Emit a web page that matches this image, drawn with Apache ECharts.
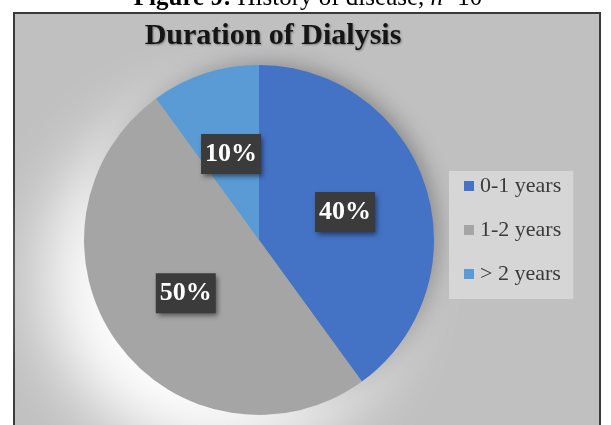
<!DOCTYPE html>
<html>
<head>
<meta charset="utf-8">
<script src="https://cdn.jsdelivr.net/npm/echarts@6/dist/echarts.min.js"></script>
<style>
  html, body { margin: 0; padding: 0; background: #fff; }
  #chart { width: 611px; height: 425px; }
</style>
</head>
<body>
<div id="chart"></div>
<script>
// data
const categories = ['0-1 years', '1-2 years', '> 2 years']
const percents = [40, 50, 10]
const sliceColors = ['#4472C4', '#A5A5A5', '#5B9BD5']

const chart = echarts.init(document.getElementById('chart'))
const serif = '"Liberation Serif", "DejaVu Serif", serif'
const pieCenter = [259, 240]

// a full disc behind the pie, only used for its shadow
const backdrop = (z, shadow) => ({
  type: 'pie',
  z,
  silent: true,
  center: pieCenter,
  radius: 173,
  label: { show: false },
  labelLine: { show: false },
  itemStyle: Object.assign({ color: '#A5A5A5' }, shadow),
  data: [{ value: 1, name: 'backdrop' }],
})

const option = {
  animation: false,
  backgroundColor: '#fff',
  title: [
    {
      // figure caption, cut off at the top of the picture
      text: '{b|Figure 9:} History of disease, {i|n}=10',
      left: 303,
      textAlign: 'center',
      top: -19,
      textStyle: {
        fontFamily: serif,
        fontSize: 25,
        fontWeight: 'normal',
        color: '#000',
        rich: {
          b: { fontFamily: serif, fontSize: 25, fontWeight: 'bold', color: '#000' },
          i: { fontFamily: serif, fontSize: 25, fontStyle: 'italic', color: '#000' },
        },
      },
    },
    {
      text: 'Duration of Dialysis',
      left: 268,
      textAlign: 'center',
      top: 16,
      textStyle: {
        fontFamily: serif,
        fontSize: 30,
        fontWeight: 'bold',
        color: '#151515',
        textShadowColor: 'rgba(0,0,0,0.35)',
        textShadowBlur: 2,
        textShadowOffsetX: 1,
        textShadowOffsetY: 1,
      },
    },
  ],
  graphic: [
    {
      type: 'rect',
      z: -10,
      silent: true,
      shape: { x: 14, y: 13, width: 586, height: 430 },
      style: { fill: '#C0C0C0', stroke: '#3a3a3a', lineWidth: 2 },
    },
  ],
  legend: {
    orient: 'vertical',
    left: 449,
    top: 171,
    data: categories,
    backgroundColor: '#D6D6D6',
    padding: [4, 12, 14, 15],
    itemWidth: 10,
    itemHeight: 10,
    itemGap: 22,
    icon: 'rect',
    selectedMode: false,
    textStyle: {
      fontFamily: serif,
      fontSize: 22,
      lineHeight: 22,
      color: '#3a3a3a',
      padding: [0, 0, 0, 1],
    },
  },
  series: [
    backdrop(0, {
      shadowColor: 'rgba(0,0,0,0.35)',
      shadowBlur: 22,
      shadowOffsetX: 5,
      shadowOffsetY: -3,
    }),
    backdrop(1, {
      shadowColor: 'rgba(255,255,255,1)',
      shadowBlur: 70,
      shadowOffsetX: -40,
      shadowOffsetY: 40,
    }),
    {
      type: 'pie',
      z: 2,
      center: pieCenter,
      radius: 175,
      startAngle: 90,
      clockwise: true,
      emphasis: { disabled: true },
      label: {
        show: true,
        position: 'inside',
        formatter: '{c}%',
        fontFamily: serif,
        fontSize: 26,
        fontWeight: 'bold',
        color: '#fff',
        backgroundColor: '#3b3b3b',
        padding: [4, 4, 10, 4],
        shadowColor: 'rgba(0,0,0,0.5)',
        shadowBlur: 5,
        shadowOffsetX: 2,
        shadowOffsetY: 3,
      },
      labelLine: { show: false },
      data: categories.map((name, i) => ({
        name,
        value: percents[i],
        itemStyle: { color: sliceColors[i] },
      })),
    },
  ],
}

chart.setOption(option)
</script>
</body>
</html>
